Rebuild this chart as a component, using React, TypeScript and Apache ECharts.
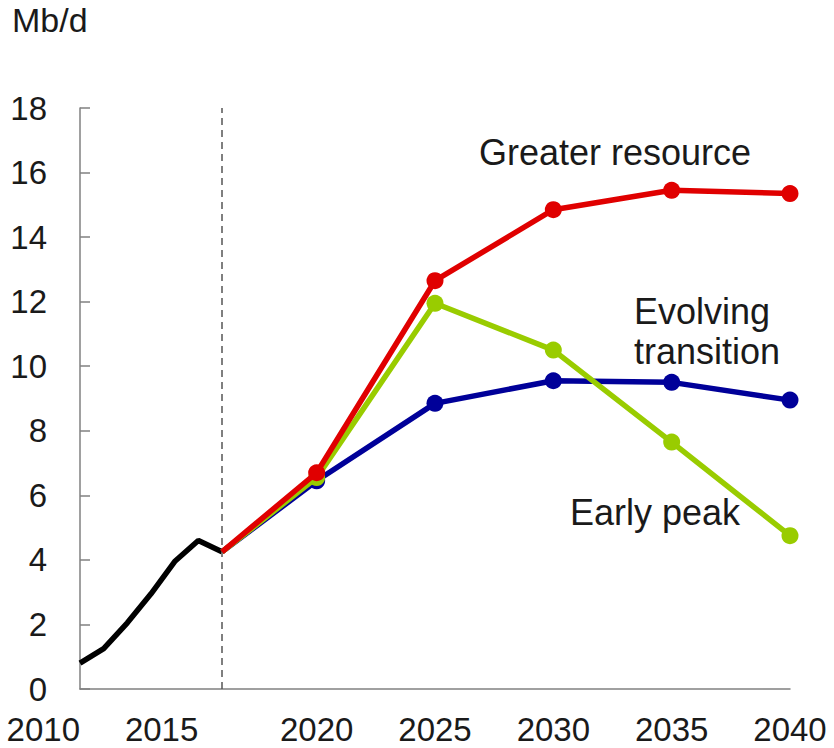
import React, { useEffect, useRef } from "react";
import * as echarts from "echarts";

const historyYears = [2010, 2011, 2012, 2013, 2014, 2015, 2016];
const historyValues = [0.8, 1.25, 2.05, 2.95, 3.95, 4.6, 4.25];

const scenarioYears = [2016, 2020, 2025, 2030, 2035, 2040];
const greaterResource = [4.25, 6.7, 12.65, 14.85, 15.45, 15.35];
const evolvingTransition = [4.25, 6.45, 8.85, 9.55, 9.5, 8.95];
const earlyPeak = [4.25, 6.55, 11.95, 10.5, 7.65, 4.75];

const xTicks = [2010, 2015, 2020, 2025, 2030, 2035, 2040];
const rightAlignedTickLabels = [2010, 2015];
const yTicks = [0, 2, 4, 6, 8, 10, 12, 14, 16, 18];

const FONT = "Liberation Sans";

const pair = (xs: number[], ys: number[]) => xs.map((x, i) => [x, ys[i]]);

export default function App() {
  const ref = useRef<HTMLDivElement>(null);

  useEffect(() => {
    document.body.style.margin = "0";
    if (!ref.current) return;
    const chart = echarts.init(ref.current, undefined, { renderer: "svg" });

    const scenarioSeries = (name: string, values: number[], color: string, z: number) => ({
      type: "line",
      name,
      data: pair(scenarioYears, values).map((p, i) => ({
        value: p,
        symbol: i === 0 ? "none" : "circle",
      })),
      symbol: "circle",
      symbolSize: 17,
      showAllSymbol: true,
      lineStyle: { color, width: 5.5 },
      itemStyle: { color },
      z,
    });

    const labelBase = {
      margin: 24,
      showMinLabel: true,
      showMaxLabel: true,
      hideOverlap: false,
      fontFamily: FONT,
      fontSize: 33,
      lineHeight: 32,
      color: "#1a1a1a",
    };

    chart.setOption({
      animation: false,
      backgroundColor: "#ffffff",
      title: {
        text: "Mb/d",
        left: 12,
        top: 3,
        padding: 0,
        textStyle: { fontFamily: FONT, fontSize: 34, fontWeight: "normal", color: "#1a1a1a" },
      },
      grid: { left: 80, right: 44, top: 108, bottom: 59 },
      xAxis: [
        {
          type: "value",
          min: xTicks[0],
          max: xTicks[xTicks.length - 1],
          interval: 5,
          axisLine: { show: true, lineStyle: { color: "#808080", width: 1.5 } },
          axisTick: { show: false },
          splitLine: { show: false },
          axisLabel: {
            ...labelBase,
            formatter: (v: number) => (rightAlignedTickLabels.includes(v) ? "" : `${v}`),
          },
        },
        {
          type: "value",
          position: "bottom",
          min: xTicks[0],
          max: xTicks[xTicks.length - 1],
          interval: 5,
          axisLine: { show: false },
          axisTick: { show: false },
          splitLine: { show: false },
          axisLabel: {
            ...labelBase,
            align: "right",
            formatter: (v: number) => (rightAlignedTickLabels.includes(v) ? `${v}` : ""),
          },
        },
      ],
      yAxis: {
        type: "value",
        min: yTicks[0],
        max: yTicks[yTicks.length - 1],
        interval: 2,
        axisLine: { show: true, lineStyle: { color: "#808080", width: 1.5 } },
        axisTick: { show: true, inside: true, length: 10, lineStyle: { color: "#808080", width: 1.5 } },
        splitLine: { show: false },
        axisLabel: {
          margin: 33,
          showMinLabel: true,
          hideOverlap: false,
          fontFamily: FONT,
          fontSize: 33,
          color: "#1a1a1a",
        },
      },
      series: [
        {
          type: "line",
          name: "History",
          data: pair(historyYears, historyValues),
          symbol: "none",
          lineStyle: { color: "#000000", width: 5.5 },
          z: 2,
          markLine: {
            symbol: "none",
            silent: true,
            label: { show: false },
            lineStyle: { color: "#555555", width: 1.5, type: [7, 5] },
            data: [{ xAxis: 2016 }],
          },
        },
        scenarioSeries("Evolving transition", evolvingTransition, "#000099", 3),
        scenarioSeries("Early peak", earlyPeak, "#99cc00", 4),
        scenarioSeries("Greater resource", greaterResource, "#e00000", 5),
      ],
      graphic: [
        {
          type: "text",
          left: 479,
          top: 134,
          style: { text: "Greater resource", fontFamily: FONT, fontSize: 36, fill: "#1a1a1a" },
        },
        {
          type: "text",
          left: 634,
          top: 291,
          style: {
            text: "Evolving\ntransition",
            fontFamily: FONT,
            fontSize: 36,
            lineHeight: 40,
            fill: "#1a1a1a",
          },
        },
        {
          type: "text",
          left: 570,
          top: 494,
          style: { text: "Early peak", fontFamily: FONT, fontSize: 36, fill: "#1a1a1a" },
        },
      ],
    });

    return () => chart.dispose();
  }, []);

  return <div ref={ref} style={{ width: 834, height: 748 }} />;
}
